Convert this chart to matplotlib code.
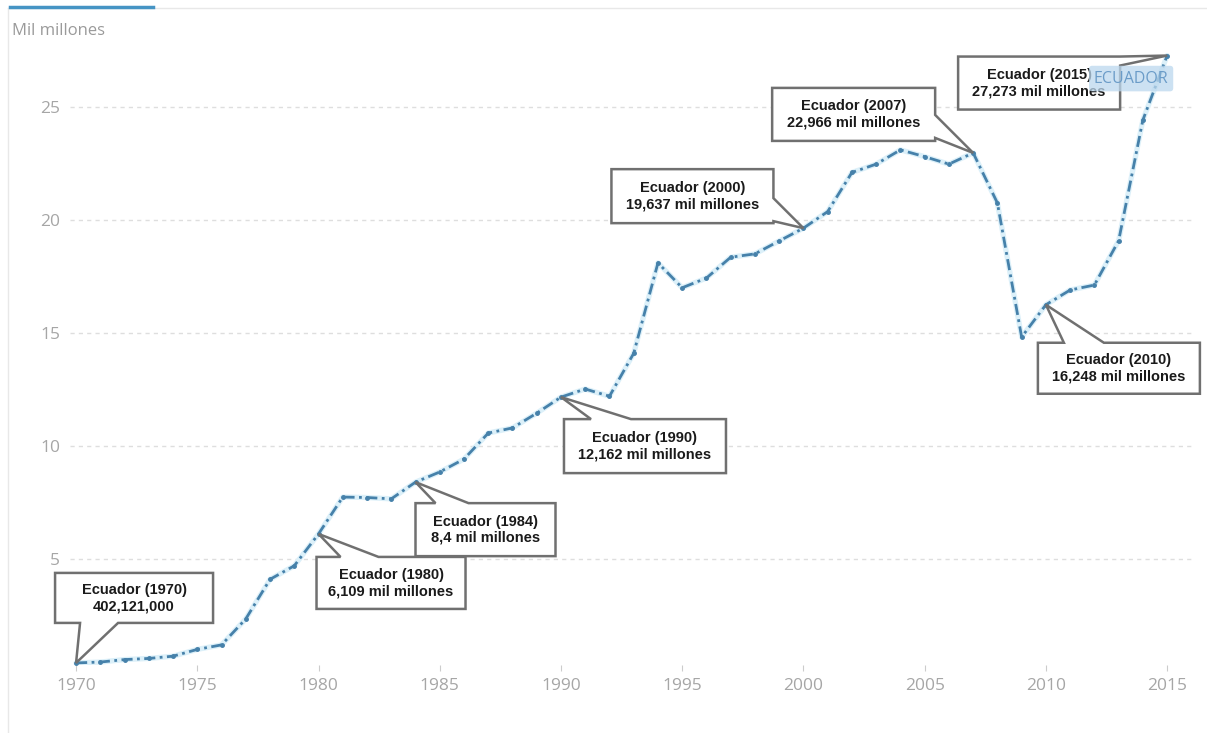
import numpy as np
import matplotlib
matplotlib.use('Agg')
import matplotlib.pyplot as plt
from matplotlib.patches import Polygon
from matplotlib.lines import Line2D

# Ecuador, mil millones
years = list(range(1970, 2016))
values = [0.402, 0.44, 0.55, 0.6, 0.7, 1.0, 1.2, 2.35, 4.1, 4.7,
          6.109, 7.74, 7.72, 7.66, 8.4, 8.85, 9.42, 10.57, 10.8, 11.45,
          12.162, 12.52, 12.2, 14.1, 18.1, 17.0, 17.43, 18.35, 18.5, 19.07,
          19.637, 20.37, 22.1, 22.47, 23.1, 22.8, 22.47, 22.966, 20.75, 14.82,
          16.248, 16.9, 17.12, 19.08, 24.42, 27.273]

x_ticks = [1970, 1975, 1980, 1985, 1990, 1995, 2000, 2005, 2010, 2015]
y_ticks = [5, 10, 15, 20, 25]

# callouts: year, label
note_years = [1970, 1980, 1984, 1990, 2000, 2007, 2010, 2015]
note_labels = ["Ecuador (1970)\n402,121,000",
               "Ecuador (1980)\n6,109 mil millones",
               "Ecuador (1984)\n8,4 mil millones",
               "Ecuador (1990)\n12,162 mil millones",
               "Ecuador (2000)\n19,637 mil millones",
               "Ecuador (2007)\n22,966 mil millones",
               "Ecuador (2010)\n16,248 mil millones",
               "Ecuador (2015)\n27,273 mil millones"]

# box placement in pixels relative to the point: (dx0, dx1, dy0, dy1), edge, spike base
note_layout = [((-21, 137, 40, 90), 'bottom', (4, 42)),
               ((-2, 147, -75, -23), 'top', (22, 60)),
               ((0, 140, -74, -21), 'top', (20, 53)),
               ((3, 165, -76, -22), 'top', (30, 70)),
               ((-192, -30, 5, 59), 'right', (7, 30)),
               ((-201, -38, 12, 65), 'right', (15, 38)),
               ((-8, 154, -89, -38), 'top', (18, 58)),
               ((-209, -47, -54, -1), 'right', (-10, -1))]

W, H = 1207, 733
fig = plt.figure(figsize=(W / 100, H / 100), dpi=100)
ax = fig.add_axes([70 / W, (H - 665) / H, (1195 - 70) / W, (665 - 45) / H])

ax.plot(years, values, color='#dcf0f9', lw=3.8, solid_capstyle='round', zorder=2)
ax.plot(years, values, color='#4681aa', lw=2, linestyle=(0, (4, 1.6, 1, 1.6)),
        marker='o', markersize=2.5, zorder=3)

ax.set_xlim(1969.75, 2016.15)
ax.set_ylim(0.31, 27.74)
ax.set_xticks(x_ticks)
ax.set_yticks(y_ticks)
for s in ax.spines.values():
    s.set_visible(False)
ax.grid(axis='y', color='#dedede', linestyle=(0, (3, 3)), lw=1)
ax.tick_params(axis='y', length=0, pad=7, labelsize=12.5, labelcolor='#a6a6a6')
ax.tick_params(axis='x', length=4, width=0.8, color='#cccccc', pad=5,
               labelsize=12.5, labelcolor='#a6a6a6')
for lab in ax.get_xticklabels() + ax.get_yticklabels():
    lab.set_family('Open Sans')

# frame lines and tab indicator
fig.add_artist(Line2D([8 / W, 1], [1 - 8 / H, 1 - 8 / H], color='#e8e8e8', lw=1))
fig.add_artist(Line2D([8 / W, 8 / W], [0, 1 - 8 / H], color='#e8e8e8', lw=1))
fig.add_artist(Line2D([10 / W, 153 / W], [1 - 7 / H, 1 - 7 / H], color='#4594c4', lw=2.5))
fig.text(12 / W, 1 - 31 / H, 'Mil millones', fontsize=12, color='#9a9a9a',
         family='Open Sans', va='center', ha='left')

fig.canvas.draw()

for yr, label, (box, edge, base) in zip(note_years, note_labels, note_layout):
    v = values[years.index(yr)]
    px, py = ax.transData.transform((yr, v))
    x0, x1 = px + box[0], px + box[1]
    y0, y1 = py + box[2], py + box[3]
    a, b = base
    tip = (px, py)
    if edge == 'bottom':
        pts = [(x0, y0), (px + a, y0), tip, (px + b, y0), (x1, y0), (x1, y1), (x0, y1)]
    elif edge == 'top':
        pts = [(x0, y0), (x1, y0), (x1, y1), (px + b, y1), tip, (px + a, y1), (x0, y1)]
    else:
        pts = [(x0, y0), (x1, y0), (x1, py + a), tip, (x1, py + b), (x1, y1), (x0, y1)]
    poly = Polygon(pts, closed=True, facecolor='white', edgecolor='#707070',
                   lw=1.8, transform=None, zorder=5, joinstyle='miter')
    fig.add_artist(poly)
    fig.text((x0 + x1) / 2 / W, (y0 + y1) / 2 / H, label, ha='center', va='center',
             fontsize=10.5, fontweight='bold', family='Liberation Sans',
             linespacing=1.2, color='#1a1a1a', zorder=6)

# series label
lx, ly = ax.transData.transform((2015, values[-1]))
fig.text((lx - 36) / W, (ly - 23) / H, 'ECUADOR', ha='center', va='center',
         fontsize=11.5, color='#6b9cc8', family='Open Sans', zorder=7,
         bbox=dict(boxstyle='round,pad=0.3,rounding_size=0.2', facecolor='#bcd8ee',
                   edgecolor='none', alpha=0.75))

fig.savefig('out.png', dpi=100)
